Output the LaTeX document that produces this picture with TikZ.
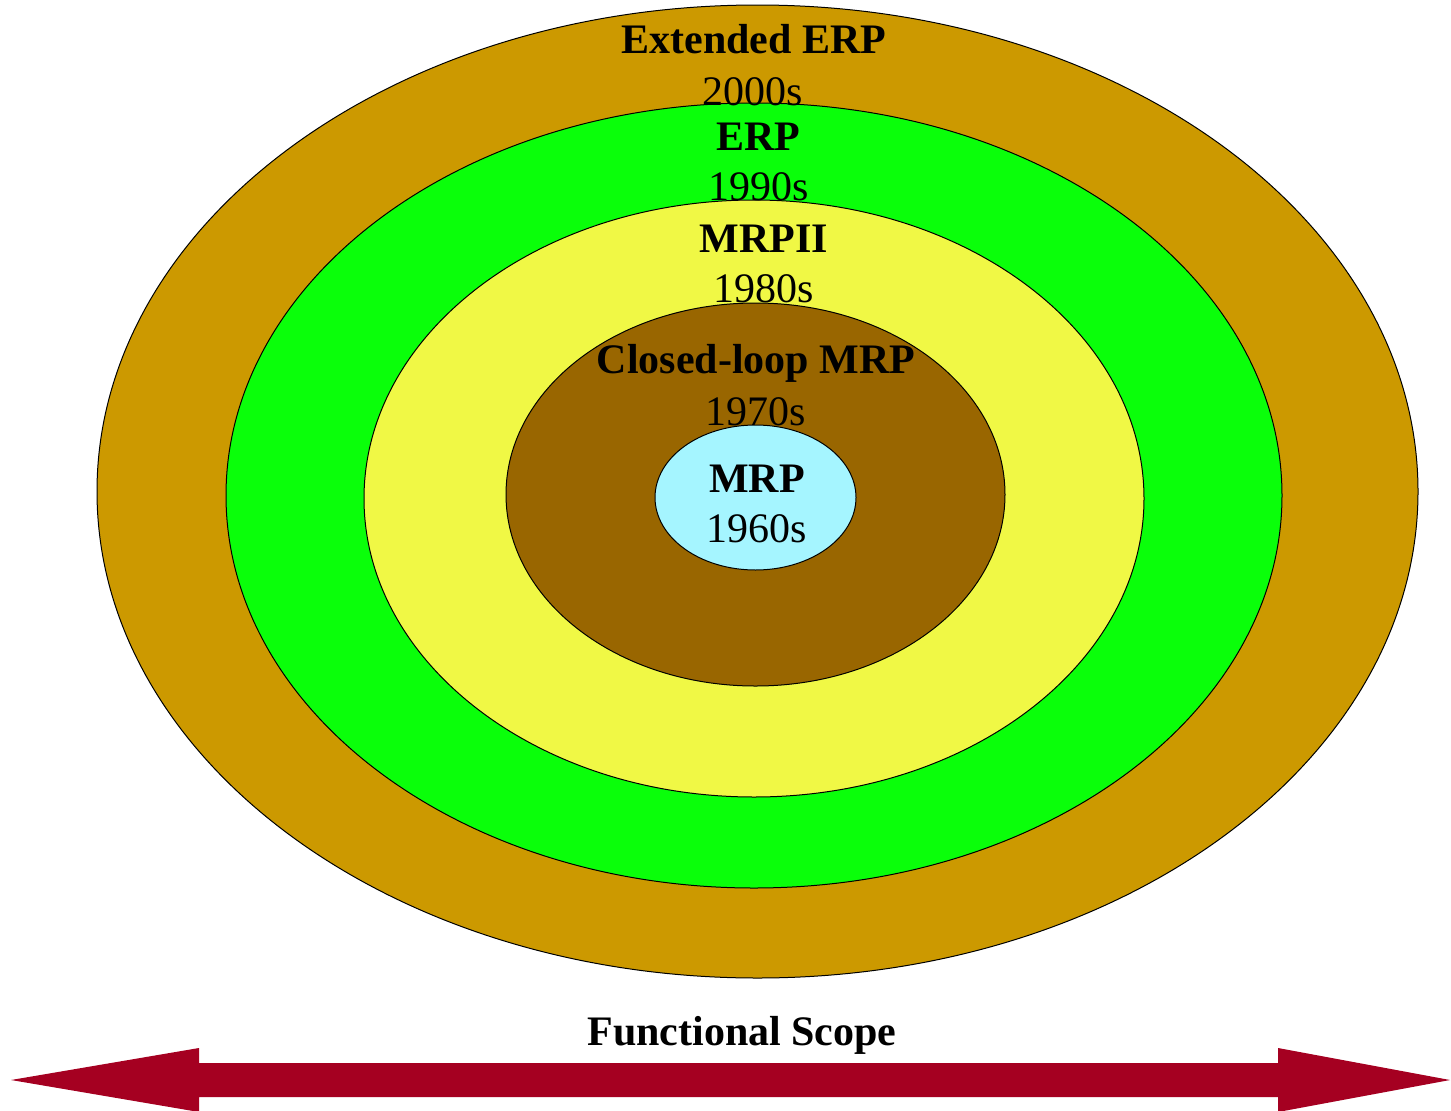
\documentclass[tikz,border=0pt]{standalone}
\usepackage{fontspec}
\setmainfont{Liberation Serif}
\usetikzlibrary{shapes.geometric}
\definecolor{extc}{HTML}{CC9900}
\definecolor{erpc}{HTML}{0AFF0A}
\definecolor{mrpiic}{HTML}{F0F845}
\definecolor{clc}{HTML}{996600}
\definecolor{mrpc}{HTML}{A5F5FF}
\definecolor{arrc}{HTML}{A50021}
\begin{document}
\begin{tikzpicture}[x=1pt,y=-1pt,
  ring/.style={ellipse,draw=black,line width=1pt,inner sep=0pt,minimum width=#1},
  title/.style={anchor=base,inner sep=0pt,font=\fontsize{42}{50}\selectfont\bfseries},
  year/.style={anchor=base,inner sep=0pt,font=\fontsize{42}{50}\selectfont}]
\useasboundingbox (0,0) rectangle (1451,1111);
\node[ring=1321pt,minimum height=973pt,fill=extc] (ext) at (757.5,491.5) {};
\node[ring=1056pt,minimum height=785pt,fill=erpc] (erp) at (754,495.5) {};
\node[ring=780pt,minimum height=597pt,fill=mrpiic] (mrpii) at (754,498.5) {};
\node[ring=499pt,minimum height=383pt,fill=clc] (cl) at (755.5,494.5) {};
\node[ring=201pt,minimum height=145pt,fill=mrpc] (mrp) at (755.5,497.5) {};
\node[title] (t1) at (754,53) {Extended ERP};
\node[year] (y1) at (753,105) {2000s};
\node[title] (t2) at (758,150) {ERP};
\node[year] (y2) at (759,200) {1990s};
\node[title] (t3) at (764,252) {MRPII};
\node[year] (y3) at (764,302) {1980s};
\node[title] (t4) at (756,373) {Closed-loop MRP};
\node[year] (y4) at (756,425) {1970s};
\node[title] (t5) at (757,492) {MRP};
\node[year] (y5) at (757,542) {1960s};
\node[title] (fs) at (742,1045) {Functional Scope};
\fill[arrc] (11,1080) -- (199,1048) -- (199,1063) -- (1278,1063) -- (1278,1048)
  -- (1450,1080) -- (1278,1112) -- (1278,1097) -- (199,1097) -- (199,1112) -- cycle;
\end{tikzpicture}
\end{document}
